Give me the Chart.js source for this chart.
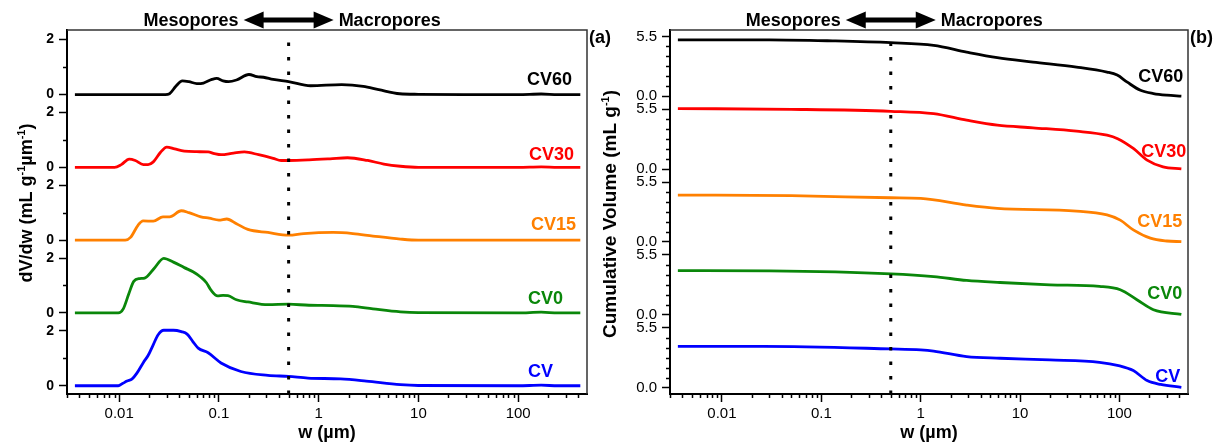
<!DOCTYPE html>
<html>
<head>
<meta charset="utf-8">
<script src="https://cdn.jsdelivr.net/npm/chart.js@4.4.1/dist/chart.umd.min.js"></script>
<style>
  html, body { margin: 0; padding: 0; background: #fff; }
  #wrap { position: relative; width: 1224px; height: 446px; overflow: hidden; }
  canvas { position: absolute; top: 0; }
  #left { left: 0; }
  #right { left: 590px; }
</style>
</head>
<body>
<div id="wrap">
  <canvas id="left" width="612" height="446"></canvas>
  <canvas id="right" width="634" height="446"></canvas>
</div>
<script>
// sample names, top panel first
const sampleNames = ['CV60', 'CV30', 'CV15', 'CV0', 'CV'];

// (a) pore size distribution dV/dw, w in µm
const wCV60 = [0.0036, 0.01, 0.029, 0.032, 0.037, 0.043, 0.05, 0.06, 0.07, 0.085, 0.095, 0.11, 0.125, 0.15, 0.2, 0.24, 0.28, 0.35, 0.5, 0.83, 1.7, 2.8, 4, 6.5, 10, 30, 100, 170, 250, 420];
const dvCV60 = [0, 0, 0, 0.03, 0.3, 0.5, 0.47, 0.4, 0.42, 0.55, 0.59, 0.5, 0.47, 0.53, 0.73, 0.65, 0.63, 0.55, 0.47, 0.32, 0.36, 0.3, 0.18, 0.03, 0.01, 0, 0, 0.02, 0, 0];

const wCV30 = [0.0036, 0.009, 0.0105, 0.0126, 0.0145, 0.0175, 0.0195, 0.022, 0.026, 0.03, 0.036, 0.045, 0.06, 0.078, 0.09, 0.105, 0.14, 0.18, 0.25, 0.35, 0.42, 0.5, 0.8, 1.3, 1.95, 3.1, 4.5, 6.6, 10, 100, 170, 250, 420];
const dvCV30 = [0, 0, 0.1, 0.3, 0.25, 0.1, 0.1, 0.2, 0.55, 0.74, 0.67, 0.59, 0.57, 0.56, 0.5, 0.46, 0.52, 0.56, 0.46, 0.33, 0.25, 0.25, 0.27, 0.31, 0.35, 0.25, 0.12, 0.04, 0, 0, 0.02, 0, 0];

const wCV15 = [0.0036, 0.0115, 0.013, 0.0155, 0.0174, 0.022, 0.0275, 0.032, 0.042, 0.05, 0.066, 0.08, 0.1, 0.12, 0.15, 0.195, 0.31, 0.5, 0.71, 1.4, 2.2, 3.5, 6.6, 10, 100, 420];
const dvCV15 = [0, 0, 0.1, 0.55, 0.7, 0.69, 0.85, 0.85, 1.07, 1.0, 0.85, 0.8, 0.73, 0.77, 0.6, 0.39, 0.28, 0.18, 0.24, 0.28, 0.24, 0.15, 0.04, 0, 0, 0];

const wCV0 = [0.0036, 0.0098, 0.011, 0.0125, 0.014, 0.016, 0.018, 0.0224, 0.028, 0.035, 0.045, 0.055, 0.066, 0.075, 0.083, 0.097, 0.11, 0.123, 0.15, 0.195, 0.31, 0.5, 0.8, 1.4, 2.2, 3.5, 6.6, 10, 100, 170, 250, 420];
const dvCV0 = [0, 0, 0.15, 0.7, 1.15, 1.25, 1.27, 1.62, 1.99, 1.85, 1.65, 1.5, 1.3, 1.1, 0.84, 0.62, 0.64, 0.63, 0.48, 0.4, 0.3, 0.32, 0.28, 0.27, 0.24, 0.15, 0.04, 0.01, 0, 0.03, 0, 0];

const wCV = [0.0036, 0.0098, 0.0108, 0.012, 0.0135, 0.015, 0.0175, 0.0195, 0.022, 0.0245, 0.028, 0.035, 0.042, 0.048, 0.055, 0.062, 0.078, 0.105, 0.166, 0.31, 0.5, 0.78, 1.66, 3, 6.6, 10, 100, 170, 250, 420];
const dvCV = [0, 0, 0.08, 0.17, 0.25, 0.45, 0.85, 1.1, 1.5, 1.85, 2.02, 2.02, 1.97, 1.88, 1.6, 1.37, 1.2, 0.83, 0.52, 0.38, 0.34, 0.28, 0.25, 0.17, 0.04, 0.01, 0, 0.02, 0, 0];

// (b) cumulative volume, mL/g
const cwCV60 = [0.0036, 0.03, 0.13, 0.5, 1.35, 2.9, 5.9, 13.5, 37, 75, 95, 120, 163, 220, 300, 420];
const cumCV60 = [5.2, 5.2, 5.1, 4.93, 4.68, 4.06, 3.55, 3.15, 2.69, 2.23, 1.95, 1.3, 0.55, 0.25, 0.1, 0.02];

const cwCV30 = [0.0036, 0.05, 0.5, 1.35, 2.9, 5.9, 13.5, 37, 75, 96, 138, 190, 275, 420];
const cumCV30 = [5.57, 5.5, 5.32, 5.1, 4.5, 4.04, 3.8, 3.49, 3.12, 2.8, 1.9, 0.83, 0.2, 0.02];

const cwCV15 = [0.0036, 0.05, 0.5, 1, 2.9, 5.9, 37, 75, 102, 138, 205, 300, 420];
const cumCV15 = [4.31, 4.25, 4.06, 4.0, 3.39, 3.09, 2.84, 2.48, 2.0, 1.1, 0.34, 0.08, 0.02];

const cwCV0 = [0.0036, 0.03, 0.5, 1.35, 2.9, 6.3, 20, 63, 102, 150, 220, 420];
const cumCV0 = [4.06, 4.03, 3.76, 3.51, 3.15, 2.96, 2.75, 2.6, 2.29, 1.38, 0.46, 0.02];

const cwCV = [0.0036, 0.026, 0.5, 1, 1.35, 2.9, 6.3, 20, 63, 98, 138, 190, 260, 420];
const cumCV = [3.79, 3.79, 3.55, 3.46, 3.35, 2.84, 2.69, 2.54, 2.32, 2.02, 1.56, 0.64, 0.28, 0.02];

// axis ticks
const psdTicks = [0, 2];
const psdMinor = [1];
const cumTicks = [0, 5.5];
const cumMinor = [1, 2, 3, 4, 5].map(k => k * 5.5 / 6);
const boundaryW = 0.5; // meso / macro limit

const colors = ['#000000', '#ff0000', '#ff8000', '#0a870a', '#0000ff'];
const FONT = '"Liberation Sans", Arial, sans-serif';

const xMin = 0.003, xMax = 490;
const xTickVals = [];
for (let e = -3; e <= 2; e++) {
  for (let m = 1; m <= 9; m++) {
    const v = parseFloat(m + 'e' + e);
    if (v >= xMin && v <= xMax) xTickVals.push(v);
  }
}
function isDecade(v) {
  const l = Math.log10(v);
  return Math.abs(l - Math.round(l)) < 1e-9;
}

function zip(w, y) {
  return w.map((x, i) => ({ x: x, y: y[i] }));
}

// draws frame, minor ticks, boundary line, header and labels
const overlay = {
  id: 'overlay',
  afterDraw(chart, args, o) {
    const ctx = chart.ctx;
    const a = chart.chartArea;
    const xs = chart.scales.x;
    ctx.save();

    ctx.strokeStyle = '#333';
    ctx.lineWidth = 1.5;
    ctx.beginPath();
    ctx.moveTo(a.left, a.top);
    ctx.lineTo(a.right, a.top);
    ctx.lineTo(a.right, a.bottom);
    ctx.stroke();

    ctx.strokeStyle = '#000';
    ctx.lineWidth = 1.5;
    ctx.beginPath();
    for (let i = 0; i < 5; i++) {
      const ys = chart.scales['p' + i];
      o.yMinor.forEach(v => {
        const py = Math.round(ys.getPixelForValue(v)) + 0.5;
        ctx.moveTo(a.left - 4, py);
        ctx.lineTo(a.left, py);
      });
    }
    xTickVals.filter(v => !isDecade(v)).forEach(v => {
      const px = Math.round(xs.getPixelForValue(v)) + 0.5;
      ctx.moveTo(px, a.bottom);
      ctx.lineTo(px, a.bottom + 4);
    });
    ctx.stroke();

    // dotted boundary line
    const bx = xs.getPixelForValue(boundaryW);
    ctx.setLineDash([3.5, 11]);
    ctx.lineWidth = 3;
    ctx.beginPath();
    ctx.moveTo(bx, a.bottom);
    ctx.lineTo(bx, a.top + 10);
    ctx.stroke();
    ctx.setLineDash([]);

    // double arrow
    const ay = 20;
    ctx.fillStyle = '#000';
    ctx.fillRect(bx - 27, ay - 2.5, 54, 5);
    ctx.beginPath();
    ctx.moveTo(bx - 45, ay);
    ctx.lineTo(bx - 25, ay - 8.5);
    ctx.lineTo(bx - 25, ay + 8.5);
    ctx.closePath();
    ctx.fill();
    ctx.beginPath();
    ctx.moveTo(bx + 45, ay);
    ctx.lineTo(bx + 25, ay - 8.5);
    ctx.lineTo(bx + 25, ay + 8.5);
    ctx.closePath();
    ctx.fill();

    ctx.font = 'bold 18px ' + FONT;
    ctx.textBaseline = 'alphabetic';
    ctx.textAlign = 'right';
    ctx.fillText('Mesopores', bx - 50, 26);
    ctx.textAlign = 'left';
    ctx.fillText('Macropores', bx + 50, 26);

    // panel letter
    ctx.fillText(o.letter, a.right + 2, 43);

    // sample labels
    ctx.textAlign = 'right';
    sampleNames.forEach((n, i) => {
      ctx.fillStyle = colors[i];
      ctx.fillText(n, xs.getPixelForValue(o.labelW[i]), chart.scales['p' + i].getPixelForValue(o.labelY[i]));
    });

    // x title
    ctx.fillStyle = '#000';
    ctx.textAlign = 'center';
    ctx.fillText('w (µm)', (a.left + a.right) / 2, 438);

    // y title with superscripts
    const parts = o.yTitle;
    const big = 'bold ' + o.titleSize + 'px ' + FONT;
    const small = 'bold 11px ' + FONT;
    const widths = parts.map(p => {
      ctx.font = p.sup ? small : big;
      return ctx.measureText(p.t).width;
    });
    const total = widths.reduce((s, w) => s + w, 0);
    ctx.translate(o.titleX, o.titleY);
    ctx.rotate(-Math.PI / 2);
    ctx.textAlign = 'left';
    let cx = -total / 2;
    parts.forEach((p, i) => {
      ctx.font = p.sup ? small : big;
      ctx.fillText(p.t, cx, p.sup ? -7 : 0);
      cx += widths[i];
    });
    ctx.restore();
  }
};

function makeChart(id, cfg) {
  const scales = {
    x: {
      type: 'logarithmic',
      position: 'bottom',
      min: xMin,
      max: xMax,
      afterBuildTicks: s => { s.ticks = xTickVals.map(v => ({ value: v })); },
      afterFit: s => { s.height = 52; },
      ticks: {
        autoSkip: false,
        maxRotation: 0,
        minRotation: 0,
        padding: 3,
        color: '#000',
        font: { family: FONT, size: 15 },
        callback: v => isDecade(v) ? String(v) : ''
      },
      grid: {
        drawOnChartArea: false,
        drawTicks: true,
        tickLength: 8,
        tickWidth: 1.5,
        tickColor: c => (c.tick && isDecade(c.tick.value)) ? '#000' : 'rgba(0,0,0,0)'
      },
      border: { color: '#000', width: 2 }
    }
  };
  // bottom panel defined first so that p0 sits on top
  for (let i = 4; i >= 0; i--) {
    scales['p' + i] = {
      type: 'linear',
      position: 'left',
      stack: 'panels',
      stackWeight: 1,
      min: cfg.yMin,
      max: cfg.yMax,
      afterBuildTicks: s => { s.ticks = cfg.yTicks.map(v => ({ value: v })); },
      afterFit: s => { s.width = cfg.axisWidth; },
      ticks: {
        autoSkip: false,
        padding: 5,
        color: '#000',
        font: { family: FONT, size: cfg.tickSize, weight: cfg.tickWeight },
        callback: cfg.tickFormat
      },
      grid: { drawOnChartArea: false, drawTicks: true, tickLength: 8, tickWidth: 1.5, tickColor: '#000' },
      border: { color: '#000', width: 2 }
    };
  }
  const datasets = cfg.series.map((s, i) => ({
    label: sampleNames[i],
    data: zip(s[0], s[1]),
    yAxisID: 'p' + i,
    borderColor: colors[i],
    borderWidth: 2.8,
    pointRadius: 0,
    fill: false,
    cubicInterpolationMode: 'monotone'
  }));
  return new Chart(document.getElementById(id), {
    type: 'line',
    data: { datasets: datasets },
    options: {
      responsive: false,
      animation: false,
      devicePixelRatio: 1,
      layout: { padding: cfg.padding },
      scales: scales,
      plugins: {
        legend: { display: false },
        tooltip: { enabled: false },
        overlay: cfg.overlay
      }
    },
    plugins: [overlay]
  });
}

makeChart('left', {
  series: [[wCV60, dvCV60], [wCV30, dvCV30], [wCV15, dvCV15], [wCV0, dvCV0], [wCV, dvCV]],
  yMin: -0.3, yMax: 2.35,
  yTicks: psdTicks,
  tickWeight: 'bold',
  tickSize: 14,
  tickFormat: v => String(v),
  axisWidth: 67,
  padding: { top: 30, right: 25, bottom: 0, left: 0 },
  overlay: {
    letter: '(a)',
    yMinor: psdMinor,
    labelW: [347, 363, 380, 282, 224],
    labelY: [0.36, 0.28, 0.36, 0.33, 0.33],
    titleX: 32, titleY: 203, titleSize: 18,
    yTitle: [{ t: 'dV/dw (mL g' }, { t: '-1', sup: true }, { t: 'µm' }, { t: '-1', sup: true }, { t: ')' }]
  }
});

makeChart('right', {
  series: [[cwCV60, cumCV60], [cwCV30, cumCV30], [cwCV15, cumCV15], [cwCV0, cumCV0], [cwCV, cumCV]],
  yMin: -0.6, yMax: 6.1,
  yTicks: cumTicks,
  tickWeight: 'normal',
  tickSize: 15,
  tickFormat: v => v.toFixed(1),
  axisWidth: 80,
  padding: { top: 30, right: 36, bottom: 0, left: 0 },
  overlay: {
    letter: '(b)',
    yMinor: cumMinor,
    labelW: [440, 471, 430, 430, 410],
    labelY: [1.28, 1.1, 1.38, 1.47, 0.46],
    titleX: 26, titleY: 214, titleSize: 19,
    yTitle: [{ t: 'Cumulative Volume (mL g' }, { t: '-1', sup: true }, { t: ')' }]
  }
});
</script>
</body>
</html>
